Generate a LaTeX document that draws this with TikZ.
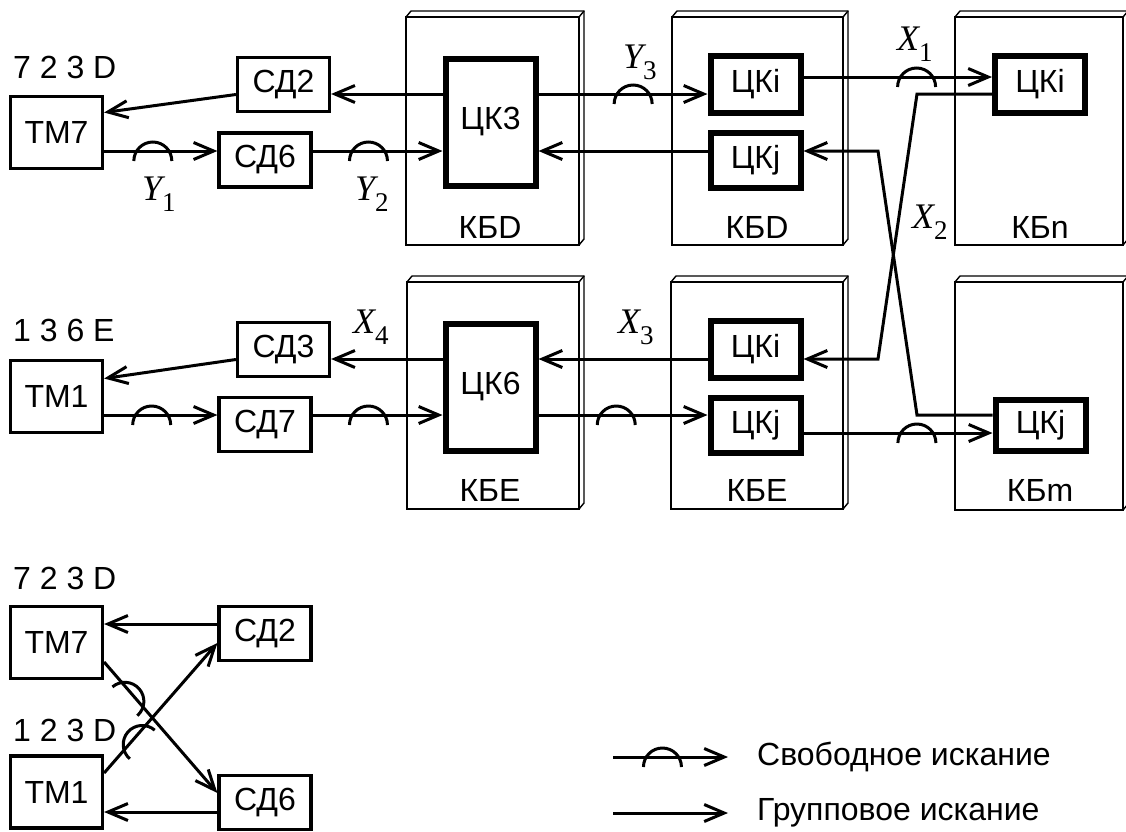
\documentclass[tikz,border=0pt]{standalone}
\usepackage{fontspec}
\setmainfont{Liberation Sans}
\newfontfamily\lserif{Liberation Serif}
\usetikzlibrary{arrows.meta,positioning,calc}
\newcommand{\fsz}{\fontsize{32}{38}\selectfont}
\newcommand{\sub}[1]{\raisebox{-11pt}{\upshape\fontsize{27}{30}\selectfont #1}}
% panel with a thin 3D edge: left, top, right, bottom
\newcommand{\panel}[4]{%
  \draw[pnl] (#1,#2) rectangle (#3,#4);
  \draw[pnl] (#1,#2) -- ++(5,-6) -- ({#3+5},{#2-6}) -- ({#3+5},{#4-6}) -- (#3,#4);
  \draw[pnl] (#3,#2) -- ++(5,-6);}
\tikzset{
  blk/.style={draw,line width=3.2pt,minimum width=92pt,minimum height=54pt,inner sep=0pt,font=\fsz},
  tm/.style={blk,minimum height=72pt},
  ck/.style={draw,line width=6pt,minimum width=90pt,minimum height=57pt,inner sep=0pt,font=\fsz},
  arr/.style={-{Straight Barb[length=20pt,width=17pt]},line width=3pt},
  pnl/.style={line width=1.4pt},
  txt/.style={inner sep=0pt,font=\fsz},
  mlbl/.style={inner sep=0pt,anchor=base west,font=\lserif\fontsize{36}{40}\selectfont\itshape},
  hop/.pic={\draw[-,line width=3pt] (-19,10) arc[start angle=180,end angle=360,radius=19];}
}
\begin{document}
\begin{tikzpicture}[x=1pt,y=-1pt]
  \useasboundingbox (0,0) rectangle (1126,831);
  % panels
  \panel{406}{17}{579}{245}
  \panel{672}{17}{843}{245}
  \panel{955}{17}{1123}{245}
  \panel{407}{282}{579}{509}
  \panel{671}{282}{843}{509}
  \panel{955}{282}{1123}{510}
  \node[txt] (kbd1) at (490,227) {КБD};
  \node[txt] (kbd2) at (757,227) {КБD};
  \node[txt] (kbn) at (1040,227) {КБn};
  \node[txt] (kbe1) at (490,490) {КБE};
  \node[txt] (kbe2) at (757,490) {КБE};
  \node[txt] (kbm) at (1040,490) {КБm};

  % levels of the lines
  \coordinate (u1) at (0,94);  \coordinate (l1) at (0,151); \coordinate (r1) at (0,77);
  \coordinate (u2) at (0,359); \coordinate (l2) at (0,415); \coordinate (r2) at (0,433);
  \coordinate (u3) at (0,624); \coordinate (l3) at (0,812);
  \coordinate (k1) at (917,0); \coordinate (k2) at (878,0);

  % upper row
  \node[txt,anchor=west] (n7) at (13,67) {7 2 3 D};
  \node[tm] (tm7) at (56.5,132.5) {ТМ7};
  \node[blk] (sd2) at (283.5,84.5) {СД2};
  \node[blk] (sd6) at (265,160) {СД6};
  \node[ck,minimum height=127pt] (ck3) at (490.5,122) {ЦК3};
  \node[ck] (cki) at (755.5,84) {ЦКi};
  \node[ck,minimum height=55pt] (ckj) at (755.5,160) {ЦКj};
  \node[ck] (ckn) at (1040,84) {ЦКi};

  % lower row
  \node[txt,anchor=west] (n1) at (13,330) {1 3 6 E};
  \node[tm] (tm1) at (56.5,396.5) {ТМ1};
  \node[blk] (sd3) at (283.5,349.5) {СД3};
  \node[blk] (sd7) at (265,424.5) {СД7};
  \node[ck,minimum height=127pt] (ck6) at (490.5,387) {ЦК6};
  \node[ck] (cke) at (755.5,349) {ЦКi};
  \node[ck,minimum height=55pt] (ckje) at (755.5,425) {ЦКj};
  \node[ck,minimum height=51pt] (ckm) at (1040.5,425) {ЦКj};

  \draw[arr] ($(sd2.west)+(0,10)$) -- ($(tm7.east)+(0,-20)$);
  \draw[arr] (ck3.west |- u1) -- (sd2.east |- u1);
  \draw[arr] (tm7.east |- l1) -- pic[pos=.43]{hop} (sd6.west |- l1);
  \draw[arr] (sd6.east |- l1) -- pic[pos=.43]{hop} (ck3.west |- l1);
  \draw[arr] (ck3.east |- u1) -- pic[pos=.56]{hop} (cki.west |- u1);
  \draw[arr] (ckj.west |- l1) -- (ck3.east |- l1);
  \draw[arr] (cki.east |- r1) -- pic[pos=.6]{hop} (ckn.west |- r1);
  \draw[arr] (ckn.west |- u1) -- (k1 |- u1) -- (k2 |- u2) -- (cke.east |- u2);
  \draw[arr] (ckm.west |- l2) -- (k1 |- l2) -- (k2 |- l1) -- (ckj.east |- l1);

  \draw[arr] ($(sd3.west)+(0,10)$) -- ($(tm1.east)+(0,-18)$);
  \draw[arr] (ck6.west |- u2) -- (sd3.east |- u2);
  \draw[arr] (tm1.east |- l2) -- pic[pos=.42]{hop} (sd7.west |- l2);
  \draw[arr] (sd7.east |- l2) -- pic[pos=.43]{hop} (ck6.west |- l2);
  \draw[arr] (cke.west |- u2) -- (ck6.east |- u2);
  \draw[arr] (ck6.east |- l2) -- pic[pos=.46]{hop} (ckje.west |- l2);
  \draw[arr] (ckje.east |- r2) -- pic[pos=.6]{hop} (ckm.west |- r2);

  \node[mlbl] (y1) at (142,200) {Y\sub{1}};
  \node[mlbl] (y2) at (355,200) {Y\sub{2}};
  \node[mlbl] (y3) at (623,68) {Y\sub{3}};
  \node[mlbl] (x1) at (897,50) {X\sub{1}};
  \node[mlbl] (x2) at (912,228) {X\sub{2}};
  \node[mlbl] (x3) at (618,333) {X\sub{3}};
  \node[mlbl] (x4) at (353,333) {X\sub{4}};

  % small cross scheme
  \node[txt,anchor=west] (n7b) at (13,578) {7 2 3 D};
  \node[tm] (tm7b) at (56.5,642.5) {ТМ7};
  \node[blk] (sd2b) at (265,633.5) {СД2};
  \node[txt,anchor=west] (n1b) at (13,730) {1 2 3 D};
  \node[tm] (tm1b) at (56.5,792) {ТМ1};
  \node[blk] (sd6b) at (265,802.5) {СД6};
  \draw[arr] (sd2b.west |- u3) -- (tm7b.east |- u3);
  \draw[arr] (sd6b.west |- l3) -- (tm1b.east |- l3);
  \draw[arr] ($(tm7b.east)+(0,19.5)$) -- pic[pos=.25,sloped]{hop} ($(sd6b.west)+(0,-9.5)$);
  \draw[arr] ($(tm1b.east)+(0,-19)$) -- pic[pos=.27,sloped]{hop} ($(sd2b.west)+(0,9.5)$);

  % legend
  \node[txt,anchor=west] (lg1) at (757,757) {Свободное искание};
  \node[txt,anchor=west] (lg2) at (757,813) {Групповое искание};
  \draw[arr] ($(lg1.west)+(-144,0)$) -- pic[pos=.43]{hop} ($(lg1.west)+(-29,0)$);
  \draw[arr] ($(lg2.west)+(-144,0)$) -- ($(lg2.west)+(-29,0)$);
\end{tikzpicture}
\end{document}
